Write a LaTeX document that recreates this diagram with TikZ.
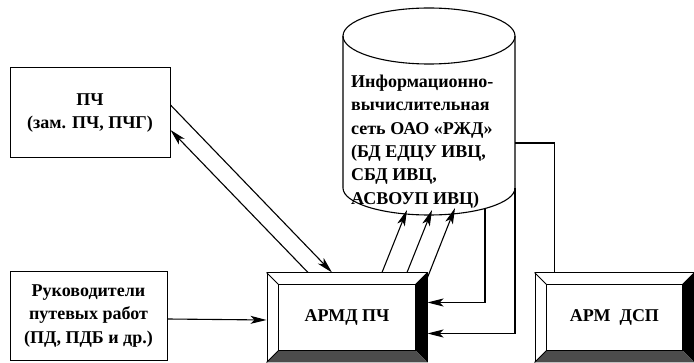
\documentclass[tikz,border=0pt]{standalone}
\usepackage{fontspec}
\setmainfont{Liberation Serif}[Extension=.ttf, UprightFont=LiberationSerif-Regular, BoldFont=LiberationSerif-Bold]
\usetikzlibrary{calc, positioning, arrows.meta}

\newcommand{\bevelframe}[1]{%
  \fill[black] (#1.north east) -- (#1.south east) -- ($(#1.south east)+(-12,-12)$) -- ($(#1.north east)+(-12,12)$) -- cycle;
  \fill[black!70] (#1.south west) -- (#1.south east) -- ($(#1.south east)+(-12,-12)$) -- ($(#1.south west)+(12,-12)$) -- cycle;
  \draw[line width=1pt] ($(#1.north west)+(12,12)$) rectangle ($(#1.south east)+(-12,-12)$);
  \draw[line width=0.8pt] (#1.north west) -- ++(12,12) (#1.south west) -- ++(12,-12) (#1.north east) -- ++(-12,12);
}

\begin{document}
\begin{tikzpicture}[x=1pt, y=-1pt,
    font=\fontsize{18}{23.3}\selectfont\bfseries,
    block/.style={draw, line width=1pt, align=center, inner sep=0pt},
    link/.style={line width=1.1pt},
    arr/.style={link, -{Stealth[length=16pt, width=8pt, inset=4pt]}},
  ]
  \useasboundingbox (0,0) rectangle (694,363);

  \node[block, minimum width=160pt, minimum height=90pt] (pch) at (90,113) {ПЧ\\(зам. ПЧ, ПЧГ)};
  \node[block, minimum width=157pt, minimum height=89pt] (ruk) at (88.5,316) {Руководители\\путевых работ\\(ПД, ПДБ и др.)};
  \node[block, minimum width=160pt, minimum height=89pt] (armd) at (347,317.5) {АРМД ПЧ};
  \node[block, minimum width=159pt, minimum height=89pt] (dsp) at (614.5,317.5) {АРМ\enspace ДСП};
  \bevelframe{armd}
  \bevelframe{dsp}

  \draw[link] (429,36) ellipse[x radius=86pt, y radius=28pt];
  \draw[link] (343,36) -- (343,188) arc[start angle=180, end angle=360, x radius=86pt, y radius=27pt] -- (515,36);
  \node[align=left, anchor=north west, inner sep=0pt] (ivs) at (351,75)
    {Информационно-\\вычислительная\\сеть ОАО «РЖД»\\(БД ЕДЦУ ИВЦ,\\СБД ИВЦ,\\АСВОУП ИВЦ)};
  \coordinate (ivs1) at (407,210);
  \coordinate (ivs2) at (432,210);
  \coordinate (ivs3) at (455,208);
  \coordinate (ivsA) at (485,208.5);
  \coordinate (ivsB) at (515,188);
  \coordinate (ivsC) at (515,143);

  \draw[arr] ($(ruk.east)+(0,3)$) -- ($(armd.west)+(0,2.5)$);
  \draw[arr] ($(pch.east)+(0,-8)$) -- ($(armd.north)+(-15,0)$);
  \draw[arr] ($(armd.north)+(-39,0)$) -- ($(pch.east)+(0,17)$);
  \draw[arr] ($(armd.north)+(35,0)$) -- (ivs1);
  \draw[arr] ($(armd.north)+(60,0)$) -- (ivs2);
  \draw[arr] ($(armd.north east)+(0,5)$) -- (ivs3);
  \draw[arr] (ivsA) |- ($(armd.east)+(0,-15)$);
  \draw[arr] (ivsB) |- ($(armd.east)+(0,16)$);
  \draw[link] (ivsC) -| ($(dsp.north west)+(20,0)$);
\end{tikzpicture}
\end{document}
